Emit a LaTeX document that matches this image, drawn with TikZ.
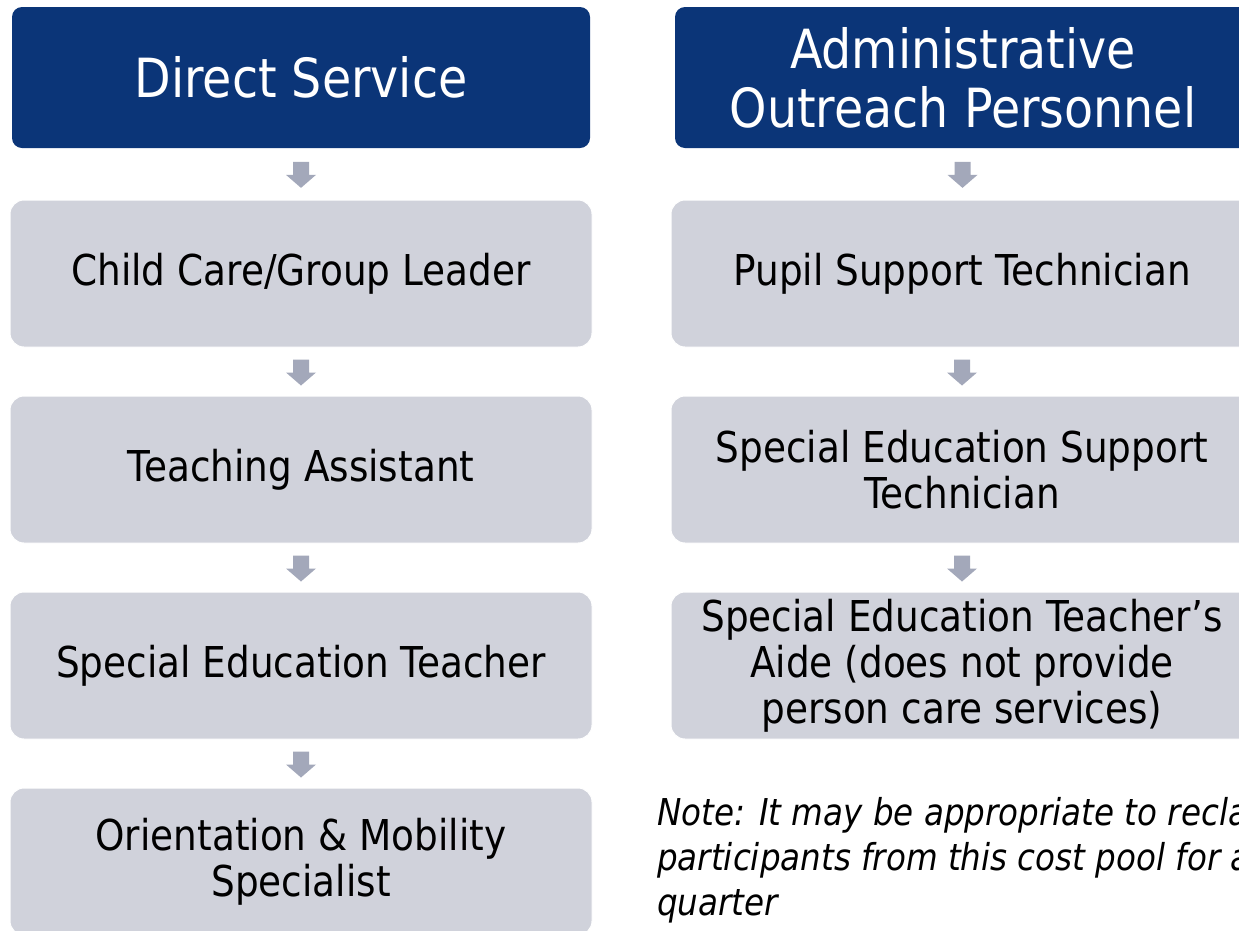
\documentclass[tikz,border=0pt]{standalone}
\usepackage{fontspec}
\setmainfont{DejaVu Sans}[FakeStretch=0.88]
\usetikzlibrary{calc}
\definecolor{navy}{RGB}{11,53,120}
\definecolor{boxgray}{RGB}{208,210,219}
\definecolor{arrowgray}{RGB}{163,168,186}
\tikzset{
  header/.style={fill=navy, rounded corners=10pt, minimum width=578pt, minimum height=141pt,
    text=white, align=center, font=\fontsize{54}{59}\selectfont, inner sep=0pt},
  itembox/.style={fill=boxgray, draw=white, line width=1pt, rounded corners=14pt, minimum width=582pt,
    minimum height=147pt, text=black, align=center, font=\fontsize{42.5}{46}\selectfont, inner sep=0pt},
  note/.style={anchor=north west, align=left, inner sep=0pt, font=\fontsize{37}{45}\selectfont\itshape}
}
\newcommand\blockarrow[2]{%
  \coordinate (m) at ($(#1.south)!0.5!(#2.north)$);
  \fill[arrowgray] (m) ++(-8,-12) -- ++(16,0) -- ++(0,13) -- ++(7,0) -- ++(-15,13) -- ++(-15,-13) -- ++(7,0) -- cycle;}
\begin{document}
\begin{tikzpicture}[x=1pt,y=-1pt]
\clip (0,0) rectangle (1239,930);
\fill[white] (0,0) rectangle (1239,930);
% left column
\node[header] (h1) at (301,77.5) {Direct Service};
\node[itembox] (l1) at (301,273.5) {Child Care/Group Leader};
\node[itembox] (l2) at (301,469.5) {Teaching Assistant};
\node[itembox] (l3) at (301,665.5) {Special Education Teacher};
\node[itembox] (l4) at (301,861.5) {Orientation \& Mobility\\Specialist};
% right column
\node[header, minimum width=576pt] (h2) at (963,77.5) {Administrative\\Outreach Personnel};
\node[itembox] (r1) at (962,273.5) {Pupil Support Technician};
\node[itembox] (r2) at (962,469.5) {Special Education Support\\Technician};
\node[itembox] (r3) at (962,665.5) {Special Education Teacher’s\\Aide (does not provide\\person care services)};
% arrows
\blockarrow{h1}{l1}
\blockarrow{l1}{l2}
\blockarrow{l2}{l3}
\blockarrow{l3}{l4}
\blockarrow{h2}{r1}
\blockarrow{r1}{r2}
\blockarrow{r2}{r3}
% note
\node[note] (nt) at (657,797) {Note: It may be appropriate to reclassify\\participants from this cost pool for a\\quarter};
\end{tikzpicture}
\end{document}
